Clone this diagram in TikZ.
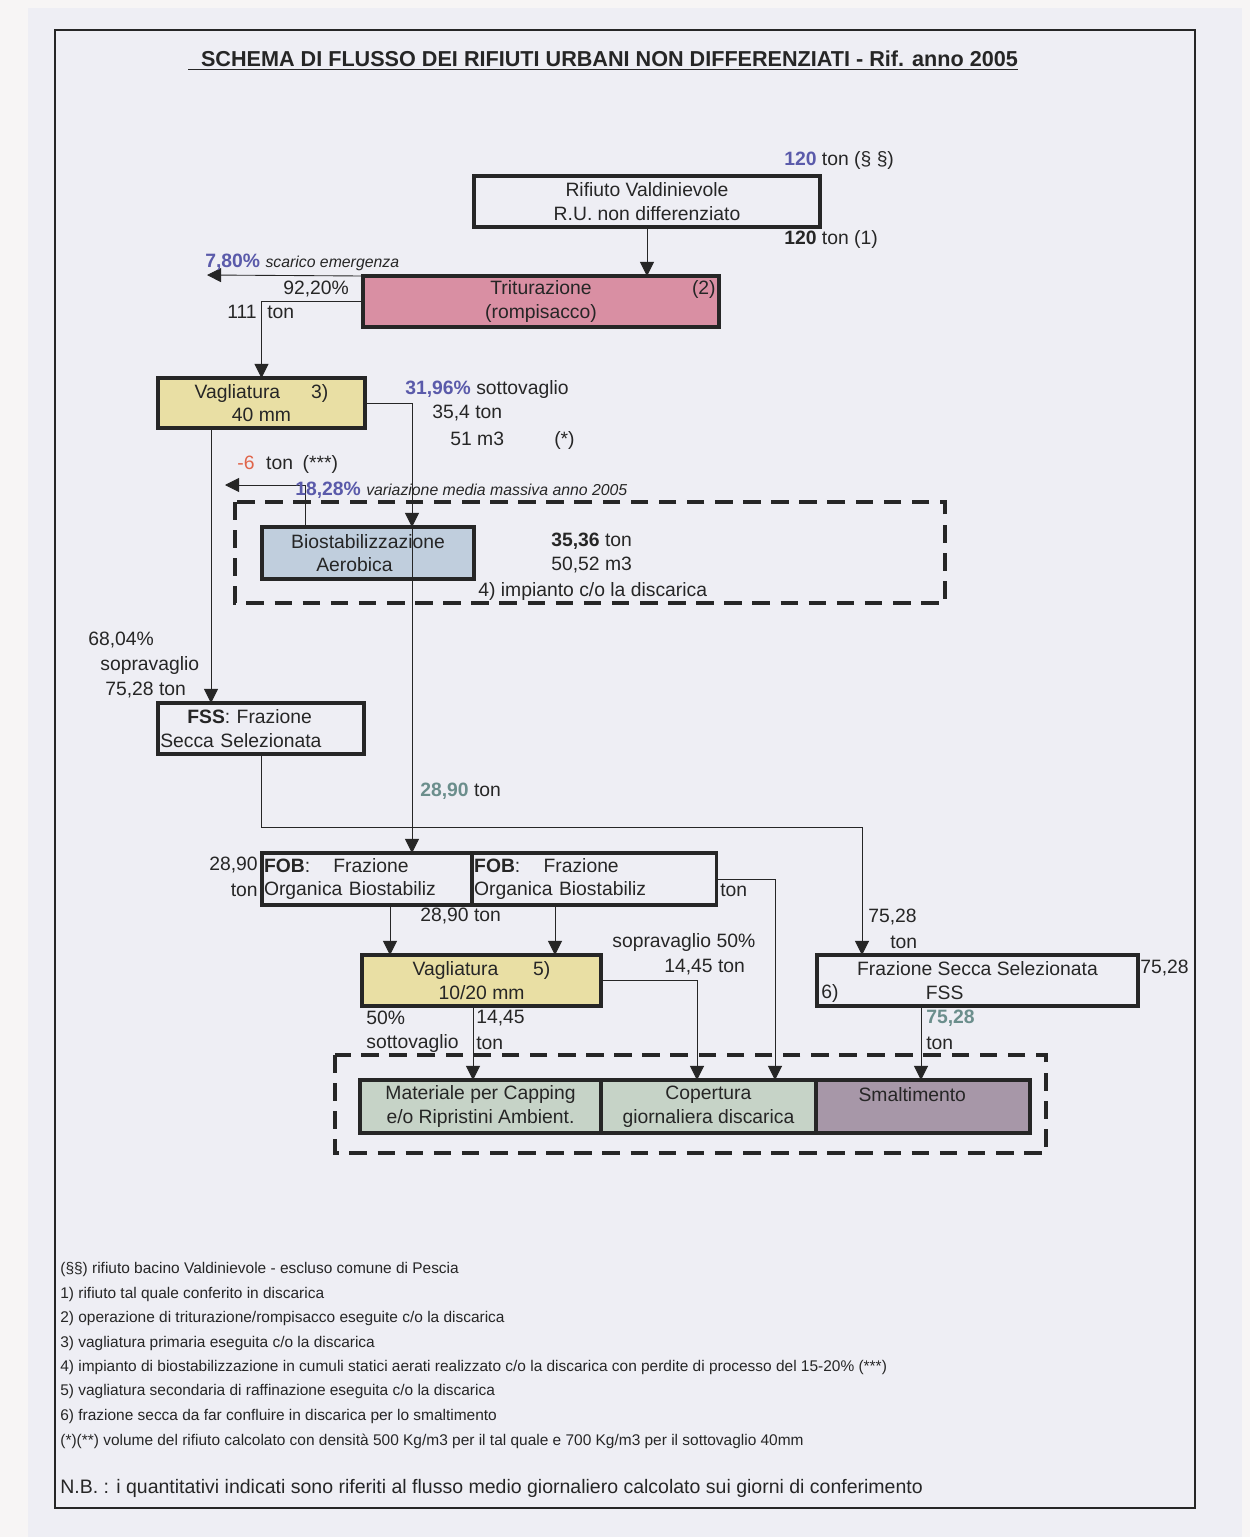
\documentclass[tikz,border=0pt]{standalone}
\usepackage{fontspec}
\setmainfont{Liberation Sans}
\usepackage{xcolor}
\usetikzlibrary{arrows.meta, positioning}

\definecolor{paper}{HTML}{EEEEF4}
\definecolor{pagewhite}{HTML}{F7F5F5}
\definecolor{ink}{HTML}{262626}
\definecolor{numblue}{HTML}{5A5AAA}
\definecolor{numteal}{HTML}{6B8E8C}
\definecolor{lossred}{HTML}{E0654A}
\definecolor{tritpink}{HTML}{D98FA3}
\definecolor{vagyellow}{HTML}{E9DFA4}
\definecolor{bioblue}{HTML}{C0CEDD}
\definecolor{capgreen}{HTML}{C6D3C7}
\definecolor{smamauve}{HTML}{A797A8}

\begin{document}
\begin{tikzpicture}[
    x=0.02cm, y=-0.02cm,
    box/.style={draw=ink, line width=2pt, outer sep=0pt, inner sep=1.2pt, align=center, text=ink, font=\fontsize{11}{13.5}\selectfont},
    lbl/.style={anchor=west, inner sep=0pt, text=ink, font=\fontsize{11}{13.5}\selectfont},
    note/.style={lbl, font=\fontsize{8.8}{10}\selectfont},
    arrow/.style={-{Triangle[length=8pt, width=8pt]}, line width=0.5pt, draw=ink},
    zone/.style={draw=ink, line width=2pt, dash pattern=on 10pt off 6pt},
    frame/.style={draw=ink, line width=0.8pt}
]
    \useasboundingbox (0,0) rectangle (1250,1537);
    \fill[pagewhite] (0,0) rectangle (1250,1537);
    \fill[paper] (28,8) rectangle (1242,1537);
    \draw[frame] (55,30) rectangle (1195,1508);

    % title
    \node[text=ink, font=\bfseries\fontsize{12.3}{14}\selectfont] (title) at (603,61)
        {\underline{\hspace{0.6em}SCHEMA DI FLUSSO DEI RIFIUTI URBANI NON DIFFERENZIATI - Rif. anno 2005}};

    % dashed plant areas
    \draw[zone] (235,502) rectangle (945,603);
    \draw[zone] (335,1055) rectangle (1046,1153);

    % process boxes
    \node[box, minimum width=6.92cm, minimum height=1.02cm] (rif) at (647,201.5) {Rifiuto Valdinievole\\R.U. non differenziato};
    \node[box, fill=tritpink, minimum width=7.12cm, minimum height=1.02cm] (trit) at (541,301.5) {Triturazione\\(rompisacco)};
    \node[lbl, anchor=east] (tritnum) at (716,289) {(2)};
    \node[box, fill=vagyellow, minimum width=4.14cm, minimum height=1cm] (vag1) at (261.5,403) {Vagliatura\hspace{1.6em}3)\\40 mm};
    \node[box, fill=bioblue, minimum width=4.24cm, minimum height=1.04cm, align=left] (bio) at (368,553) {Biostabilizzazione\\\hspace*{1.3em}Aerobica};
    \node[box, minimum width=4.12cm, minimum height=1.02cm, align=left, text width=4.03cm] (fss) at (261,728.5) {\hspace*{1.4em}\textbf{FSS}: Frazione\\Secca Selezionata};
    \node[box, minimum height=1.04cm, align=left, text width=4.12cm] (fobA) at (367,879) {\textbf{FOB}:\hspace{1.2em}Frazione\\Organica Biostabiliz};
    \node[box, minimum height=1.04cm, align=left, text width=4.80cm, right=0pt of fobA] (fobB) {\textbf{FOB}:\hspace{1.2em}Frazione\\Organica Biostabiliz};
    \node[box, fill=vagyellow, minimum width=4.78cm, minimum height=1.02cm] (vag2) at (481.5,980.5) {Vagliatura\hspace{1.8em}5)\\10/20 mm};
    \node[box, minimum width=6.42cm, minimum height=1.02cm] (fsel) at (977.5,980.5) {Frazione Secca Selezionata\\FSS\hspace*{3.4em}};
    \node[lbl] (fselnum) at (821,993) {6)};
    \node[box, fill=capgreen, minimum width=4.82cm, minimum height=1.06cm] (mat) at (480.5,1106.5) {Materiale per Capping\\e/o Ripristini Ambient.};
    \node[box, fill=capgreen, minimum width=4.3cm, minimum height=1.06cm, right=0pt of mat] (cop) {Copertura\\giornaliera discarica};
    \node[box, fill=smamauve, minimum width=4.28cm, minimum height=1.06cm, right=0pt of cop] (sma) {Smaltimento\hspace*{1.1em}\\\mbox{}};

    % connector columns and free ends
    \coordinate (emerg) at (207,275);
    \coordinate (loss) at (225,485);
    \coordinate (colA) at (211,0);
    \coordinate (colB) at (412,0);
    \coordinate (colL) at (305,0);
    \coordinate (busR) at (862,827);
    \coordinate (colC) at (390,0);
    \coordinate (colD) at (555,0);
    \coordinate (colE) at (775,0);
    \coordinate (colH) at (697,0);
    \coordinate (colI) at (473,0);
    \coordinate (colJ) at (921,0);

    \draw[arrow] (rif.south) -- (rif.south |- trit.north);
    \draw[arrow] (trit.north west) -- (emerg);
    \draw[arrow] (trit.west) -| (vag1.north);
    \draw[arrow] (vag1.east) -| (colB |- bio.north);
    \draw[arrow] (colA |- vag1.south) -- (colA |- fss.north);
    \draw[arrow] (colL |- bio.north) |- (loss);
    \draw[arrow] (colB |- bio.north) -- (colB |- fobA.north);
    \draw[arrow] (fss.south) |- (busR) -- (busR |- fsel.north);
    \draw[arrow] (colC |- fobA.south) -- (colC |- vag2.north);
    \draw[arrow] (colD |- fobB.south) -- (colD |- vag2.north);
    \draw[arrow] (fobB.east) -| (colE |- cop.north);
    \draw[arrow] (vag2.east) -| (colH |- cop.north);
    \draw[arrow] (colI |- vag2.south) -- (colI |- mat.north);
    \draw[arrow] (colJ |- fsel.south) -- (colJ |- sma.north);

    % quantities
    \node[lbl] (q120a) at (784,161) {\textcolor{numblue}{\textbf{120}} ton (§ §)};
    \node[lbl] (q120b) at (784,239) {\textbf{120} ton (1)};
    \node[lbl] (qemerg) at (205,262) {\textcolor{numblue}{\textbf{7,80\%}} {\fontsize{9}{11}\itshape scarico emergenza}};
    \node[lbl] (q9220) at (283,289) {92,20\%};
    \node[lbl, anchor=east] (q111) at (257,312) {111};
    \node[lbl] (q111u) at (267,312) {ton};
    \node[lbl] (q3196) at (405,390) {\textcolor{numblue}{\textbf{31,96\%}} sottovaglio};
    \node[lbl] (q354) at (432,413) {35,4 ton};
    \node[lbl] (q51) at (450,440) {51 m3\hspace{2.6em}(*)};
    \node[lbl] (qloss) at (237,464) {\textcolor{lossred}{-6}\hspace{0.6em}ton\hspace{0.5em}(***)};
    \node[lbl] (q1828) at (295,490) {\textcolor{numblue}{\textbf{18,28\%}} {\fontsize{9}{11}\itshape variazione media massiva anno 2005}};
    \node[lbl] (q3536) at (551,541) {\textbf{35,36} ton};
    \node[lbl] (q5052) at (551,565) {50,52 m3};
    \node[lbl] (qplant) at (478,591) {4) impianto c/o la discarica};
    \node[lbl] (q6804) at (88,640) {68,04\%};
    \node[lbl] (qsopra) at (100,665) {sopravaglio};
    \node[lbl] (q7528a) at (105,690) {75,28 ton};
    \node[lbl] (q2890a) at (420,791) {\textcolor{numteal}{\textbf{28,90}} ton};
    \node[lbl] (q7528b) at (868,917) {75,28};
    \node[lbl] (q7528bu) at (890,942) {ton};
    \node[lbl, anchor=east] (q2890b) at (258,865) {28,90};
    \node[lbl, anchor=east] (q2890bu) at (258,890) {ton};
    \node[lbl] (qfobu) at (720,890) {ton};
    \node[lbl] (q2890c) at (420,916) {28,90 ton};
    \node[lbl] (qsopra50) at (612,942) {sopravaglio 50\%};
    \node[lbl] (q1445a) at (664,967) {14,45 ton};
    \node[lbl] (q50) at (366,1018) {50\%};
    \node[lbl] (qsotto) at (366,1043) {sottovaglio};
    \node[lbl] (q1445b) at (476,1018) {14,45};
    \node[lbl] (q1445bu) at (476,1043) {ton};
    \node[lbl] (q7528c) at (1140,968) {75,28};
    \node[lbl] (q7528d) at (926,1018) {\textcolor{numteal}{\textbf{75,28}}};
    \node[lbl] (q7528du) at (926,1043) {ton};

    % footnotes
    \node[note] (n0) at (60,1269) {(§§) rifiuto bacino Valdinievole - escluso comune di Pescia};
    \node[note] (n1) at (60,1294) {1) rifiuto tal quale conferito in discarica};
    \node[note] (n2) at (60,1318) {2) operazione di triturazione/rompisacco eseguite c/o la discarica};
    \node[note] (n3) at (60,1343) {3) vagliatura primaria eseguita c/o la discarica};
    \node[note] (n4) at (60,1367) {4) impianto di biostabilizzazione in cumuli statici aerati realizzato c/o la discarica con perdite di processo del 15-20\% (***)};
    \node[note] (n5) at (60,1391) {5) vagliatura secondaria di raffinazione eseguita c/o la discarica};
    \node[note] (n6) at (60,1416) {6) frazione secca da far confluire in discarica per lo smaltimento};
    \node[note] (n7) at (60,1441) {(*)(**) volume del rifiuto calcolato con densità 500 Kg/m3 per il tal quale e 700 Kg/m3 per il sottovaglio 40mm};
    \node[lbl, font=\fontsize{11.1}{13}\selectfont] (nb) at (60,1488) {N.B. : i quantitativi indicati sono riferiti al flusso medio giornaliero calcolato sui giorni di conferimento};
\end{tikzpicture}
\end{document}
